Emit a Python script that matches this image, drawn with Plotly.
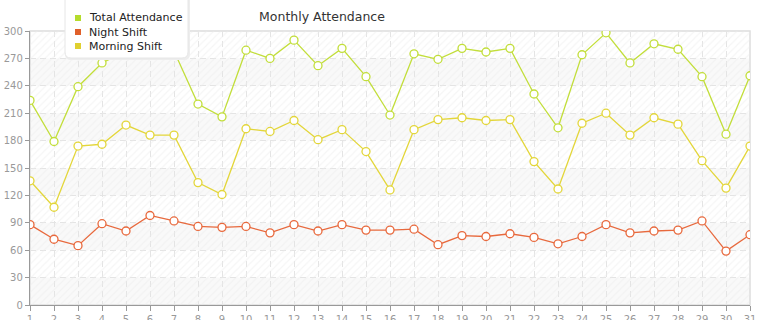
import plotly.graph_objects as go

days = list(range(1, 32))
total_attendance = [224, 179, 239, 265, 278, 284, 278, 220, 206, 279, 270, 290, 262, 281, 250, 208,
                    275, 269, 281, 277, 281, 231, 194, 274, 298, 265, 286, 280, 250, 187, 251]
night_shift = [88, 72, 65, 89, 81, 98, 92, 86, 85, 86, 79, 88, 81, 88, 82, 82,
               83, 66, 76, 75, 78, 74, 67, 75, 88, 79, 81, 82, 92, 59, 77]
morning_shift = [136, 107, 174, 176, 197, 186, 186, 134, 121, 193, 190, 202, 181, 192, 168, 126,
                 192, 203, 205, 202, 203, 157, 127, 199, 210, 186, 205, 198, 158, 128, 174]
series_names = ["Total Attendance", "Night Shift", "Morning Shift"]
y_ticks = list(range(0, 301, 30))

colors = ["#c2de3a", "#e8693d", "#e3d63a"]
legend_colors = ["#b5dc2c", "#e0602a", "#e0d030"]
series = [total_attendance, night_shift, morning_shift]

W, H = 765, 320
L, R, T, B = 30, 15, 31, 15
pw, ph = W - L - R, H - T - B


def px2x(px):
    return (px - L) / pw


def px2y(py):
    return (H - B - py) / ph


fig = go.Figure()

# hatched background over plot area
fig.add_trace(go.Scatter(
    x=[days[0], days[-1], days[-1], days[0], days[0]],
    y=[y_ticks[0], y_ticks[0], y_ticks[-1], y_ticks[-1], y_ticks[0]],
    mode="none", fill="toself", fillcolor="rgba(0,0,0,0)",
    fillpattern=dict(shape="/", fgcolor="#ebebeb", bgcolor="rgba(0,0,0,0)", size=5, solidity=0.22),
    hoverinfo="skip", showlegend=False))

for name, vals, c in zip(series_names, series, colors):
    fig.add_trace(go.Scatter(
        x=days, y=vals, mode="lines+markers", name=name, showlegend=False,
        line=dict(color=c, width=1.3),
        marker=dict(size=8, color="white", line=dict(color=c, width=1.3))))

shapes = []
# alternating bands
for i in range(0, len(y_ticks) - 1):
    if i % 2 == 0:
        shapes.append(dict(type="rect", xref="x domain", yref="y", x0=0, x1=1,
                           y0=y_ticks[i], y1=y_ticks[i + 1], fillcolor="#f9f9f9",
                           line=dict(width=0), layer="below"))
# plot border (top/right)
shapes.append(dict(type="rect", xref="paper", yref="paper", x0=0, x1=1, y0=0, y1=1,
                   line=dict(color="#dddddd", width=1.5), fillcolor="rgba(0,0,0,0)", layer="below"))


def rrect(x0, y0, x1, y1, r):
    return (f"M {px2x(x0)},{px2y(y0)} L {px2x(x1)},{px2y(y0)} "
            f"L {px2x(x1)},{px2y(y1 - r)} Q {px2x(x1)},{px2y(y1)} {px2x(x1 - r)},{px2y(y1)} "
            f"L {px2x(x0 + r)},{px2y(y1)} Q {px2x(x0)},{px2y(y1)} {px2x(x0)},{px2y(y1 - r)} Z")


shapes.append(dict(type="path", xref="paper", yref="paper", path=rrect(65, -8, 190, 60, 6),
                   fillcolor="#ededed", line=dict(width=0), layer="above"))
shapes.append(dict(type="path", xref="paper", yref="paper", path=rrect(65, -8, 188, 58, 6),
                   fillcolor="white", line=dict(color="#e6e6e6", width=1), layer="above"))

# legend entries (manual, to match compact spacing)
annotations = []
legend_y = [18, 32, 46]
for name, c, ly in zip(series_names, legend_colors, legend_y):
    shapes.append(dict(type="rect", xref="paper", yref="paper",
                       x0=px2x(75), x1=px2x(81), y0=px2y(ly + 3), y1=px2y(ly - 3),
                       fillcolor=c, line=dict(width=0), layer="above"))
    annotations.append(dict(text=name, xref="paper", yref="paper", x=px2x(87), y=px2y(ly),
                            xanchor="left", yanchor="middle", showarrow=False,
                            font=dict(family="DejaVu Sans", size=11, color="#222222")))

fig.update_layout(
    width=W, height=H,
    margin=dict(l=L, r=R, t=T, b=B),
    paper_bgcolor="white", plot_bgcolor="white",
    font=dict(family="DejaVu Sans", size=10, color="#999999"),
    title=dict(text="Monthly Attendance", x=(322 - L) / pw, xref="paper", xanchor="center",
               y=1 - 17 / H, yref="container", yanchor="middle",
               font=dict(family="DejaVu Sans", size=12.5, color="#333333")),
    shapes=shapes,
    annotations=annotations,
    showlegend=False,
    xaxis=dict(range=[days[0], days[-1]], tickmode="array", tickvals=days,
               ticktext=[str(d) for d in days], automargin=False,
               showgrid=True, gridcolor="#e4e4e4", griddash="6px,4px", gridwidth=1.3,
               showline=True, linecolor="#999999", linewidth=1.3,
               ticks="outside", ticklen=5, tickcolor="#999999", tickwidth=1.3,
               zeroline=False, fixedrange=True),
    yaxis=dict(range=[y_ticks[0], y_ticks[-1]], tickmode="array", tickvals=y_ticks,
               automargin=False,
               showgrid=True, gridcolor="#e4e4e4", griddash="6px,4px", gridwidth=1.3,
               showline=True, linecolor="#999999", linewidth=1.3,
               ticks="outside", ticklen=4, tickcolor="#999999", tickwidth=1.3,
               zeroline=False, fixedrange=True),
)

fig.write_html("out.html")
